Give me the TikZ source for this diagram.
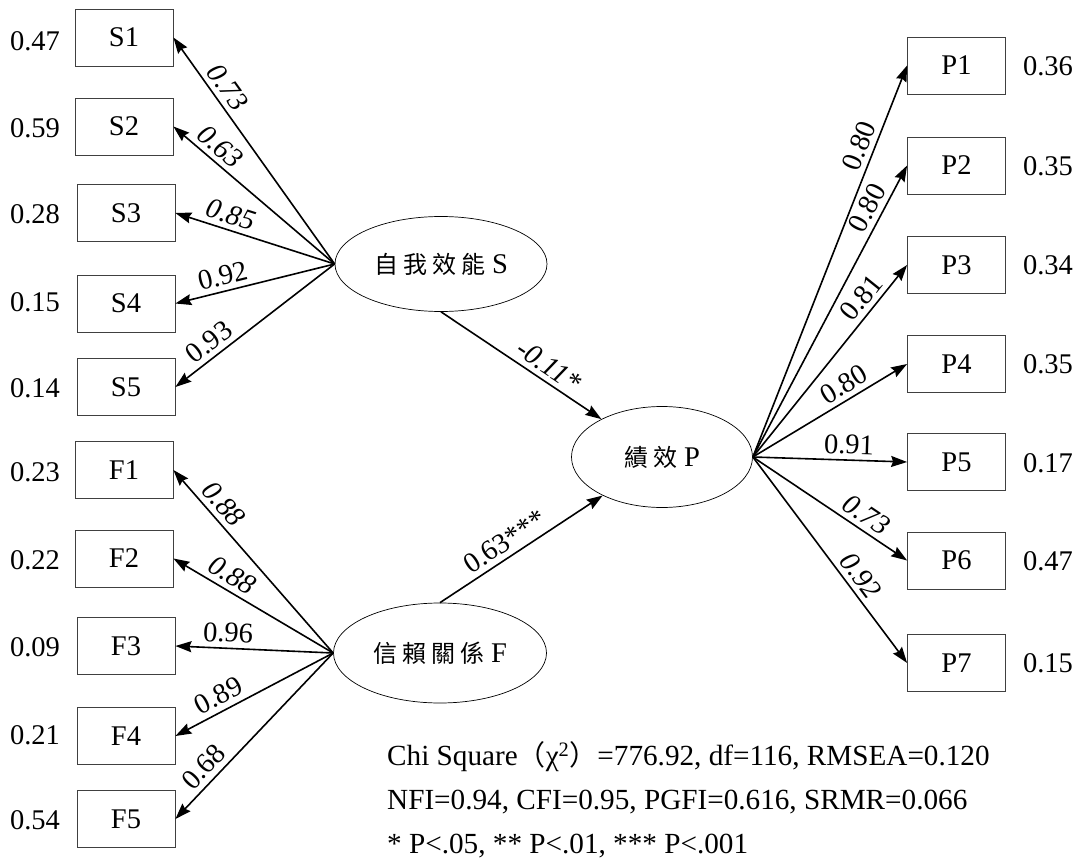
\documentclass[tikz,border=0pt]{standalone}
\usepackage{fontspec}
\setmainfont{Liberation Serif}
\newfontfamily\cjk{Noto Sans CJK TC}
\usetikzlibrary{arrows.meta,shapes.geometric}
\newcommand{\cjkgap}{\hspace{5pt}}
\begin{document}
\begin{tikzpicture}[x=1pt,y=-1pt,
  obs/.style={draw=black!75, line width=0.8pt, minimum width=98pt, minimum height=57pt, inner sep=0pt, font=\fontsize{28.5}{32}\selectfont},
  lat/.style={draw, ellipse, line width=0.7pt, inner sep=0pt, font=\fontsize{28.5}{32}\selectfont},
  err/.style={font=\fontsize{28.5}{32}\selectfont, inner sep=0pt},
  arr/.style={-{Stealth[length=16pt,width=11pt,inset=2pt]}, line width=1.6pt},
  lbl/.style={sloped, above, inner sep=5pt, font=\fontsize{28.5}{32}\selectfont},
  ilbl/.style={lbl, font=\itshape\fontsize{28.5}{32}\selectfont},
  note/.style={anchor=west, inner sep=0pt, font=\fontsize{29.2}{33}\selectfont},
]
\useasboundingbox (0,0) rectangle (1085,861);

% latent variables
\node[lat, minimum width=212pt, minimum height=95pt] (S) at (441,264) {{\cjk\fontsize{24}{28}\selectfont 自\cjkgap 我\cjkgap 效\cjkgap 能}\hspace{7pt}S};
\node[lat, minimum width=213pt, minimum height=100pt] (F) at (440,653) {{\cjk\fontsize{24}{28}\selectfont 信\cjkgap 賴\cjkgap 關\cjkgap 係}\hspace{7pt}F};
\node[lat, minimum width=181pt, minimum height=101pt] (P) at (662,457) {{\cjk\fontsize{24}{28}\selectfont 績\cjkgap 效}\hspace{7pt}P};

% S indicators
\node[obs] (S1) at (124,37.5) {S1};
\node[obs] (S2) at (124,126.5) {S2};
\node[obs] (S3) at (126,213) {S3};
\node[obs] (S4) at (126,303.5) {S4};
\node[obs] (S5) at (126,387) {S5};
\node[err] (eS1) at (35,41) {0.47};
\node[err] (eS2) at (35,128) {0.59};
\node[err] (eS3) at (35,214) {0.28};
\node[err] (eS4) at (35,302) {0.15};
\node[err] (eS5) at (35,388) {0.14};

% F indicators
\node[obs] (F1) at (124,470) {F1};
\node[obs] (F2) at (124,558.5) {F2};
\node[obs] (F3) at (126,646) {F3};
\node[obs] (F4) at (126,736) {F4};
\node[obs] (F5) at (126,819) {F5};
\node[err] (eF1) at (35,472) {0.23};
\node[err] (eF2) at (35,560) {0.22};
\node[err] (eF3) at (35,647) {0.09};
\node[err] (eF4) at (35,735) {0.21};
\node[err] (eF5) at (35,820) {0.54};

% P indicators
\node[obs] (P1) at (956.5,65.5) {P1};
\node[obs] (P2) at (956.5,165.5) {P2};
\node[obs] (P3) at (956.5,265) {P3};
\node[obs] (P4) at (956.5,364) {P4};
\node[obs] (P5) at (956.5,462) {P5};
\node[obs] (P6) at (956.5,560.5) {P6};
\node[obs] (P7) at (956.5,663) {P7};
\node[err] (eP1) at (1048,66) {0.36};
\node[err] (eP2) at (1048,166) {0.35};
\node[err] (eP3) at (1048,265) {0.34};
\node[err] (eP4) at (1048,364) {0.35};
\node[err] (eP5) at (1048,463) {0.17};
\node[err] (eP6) at (1048,561) {0.47};
\node[err] (eP7) at (1048,663) {0.15};

% loadings S
\draw[arr] (S.west) -- (S1.east) node[ilbl, pos=0.74] {0.73};
\draw[arr] (S.west) -- (S2.east) node[ilbl, pos=0.77] {0.63};
\draw[arr] (S.west) -- (S3.east) node[ilbl, pos=0.68] {0.85};
\draw[arr] (S.west) -- (S4.east) node[lbl, pos=0.68] {0.92};
\draw[arr] (S.west) -- (S5.east) node[lbl, pos=0.73] {0.93};

% loadings F
\draw[arr] (F.west) -- (F1.east) node[ilbl, pos=0.76] {0.88};
\draw[arr] (F.west) -- (F2.east) node[ilbl, pos=0.68] {0.88};
\draw[arr] (F.west) -- (F3.east) node[lbl, pos=0.67] {0.96};
\draw[arr] (F.west) -- (F4.east) node[lbl, pos=0.68] {0.89};
\draw[arr] (F.west) -- (F5.east) node[lbl, pos=0.75] {0.68};

% loadings P
\draw[arr] (P.east) -- (P1.west) node[lbl, pos=0.78] {0.80};
\draw[arr] (P.east) -- (P2.west) node[lbl, pos=0.83] {0.80};
\draw[arr] (P.east) -- (P3.west) node[lbl, pos=0.78] {0.81};
\draw[arr] (P.east) -- (P4.west) node[lbl, pos=0.64] {0.80};
\draw[arr] (P.east) -- (P5.west) node[lbl, pos=0.62] {0.91};
\draw[arr] (P.east) -- (P6.west) node[ilbl, pos=0.68] {0.73};
\draw[arr] (P.east) -- (P7.west) node[ilbl, pos=0.62] {0.92};

% structural paths
\draw[arr] (S.south) -- (P.148) node[ilbl, pos=0.62] {-0.11*};
\draw[arr] (F.north) -- (P.213) node[lbl, pos=0.45] {0.63***};

% fit indices
\node[note] (n1) at (387,757) {Chi Square{\cjk\fontsize{28}{32}\selectfont （}χ\textsuperscript{2}{\cjk\fontsize{28}{32}\selectfont ）}=776.92, df=116, RMSEA=0.120};
\node[note] (n2) at (387,802) {NFI=0.94, CFI=0.95, PGFI=0.616, SRMR=0.066};
\node[note] (n3) at (387,846) {* P<.05, ** P<.01, *** P<.001};
\end{tikzpicture}
\end{document}
